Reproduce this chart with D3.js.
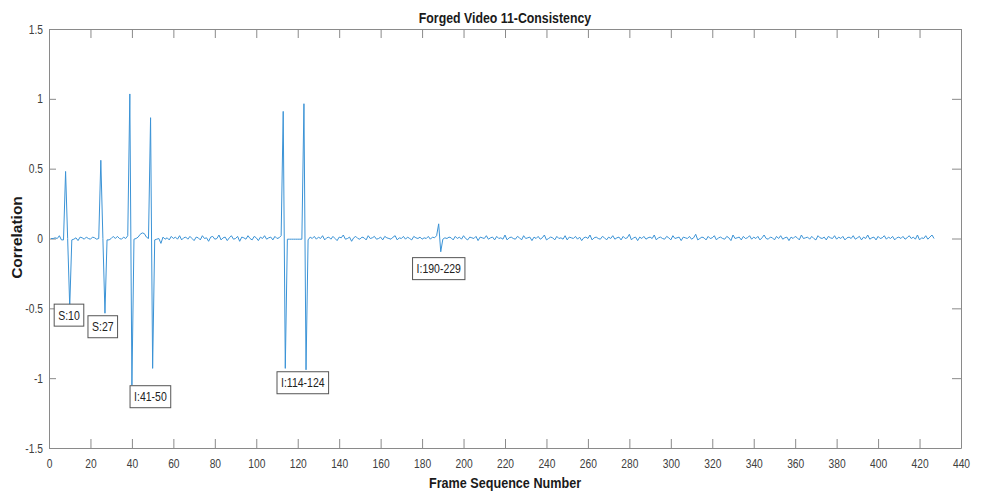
<!DOCTYPE html>
<html>
<head>
<meta charset="utf-8">
<script src="https://cdn.jsdelivr.net/npm/d3@7"></script>
<style>
  body { margin: 0; background: #fff; }
  text { font-family: "Liberation Sans", Arial, sans-serif; }
</style>
</head>
<body>
<div id="chart"></div>
<script>
// correlation per frame, frames 1..427 (10 per row)
const correlation = [
  0.0, 0.0, 0.005, 0.0, 0.02, -0.01, -0.01, 0.48, 0.0, -0.49,
  -0.01, -0.005, 0.005, -0.015, 0.01, 0.005, -0.005, 0.01, 0.0, -0.005,
  0.01, 0.005, -0.005, 0.0, 0.56, 0.0, -0.535, -0.01, -0.01, 0.0,
  0.015, 0.0, 0.015, 0.0, -0.005, 0.01, 0.0, 0.02, 1.035, -1.05,
  -0.005, 0.0, 0.01, 0.03, 0.04, 0.035, 0.01, 0.0, 0.865, -0.93,
  -0.01, -0.005, 0.0, -0.035, 0.01, -0.005, 0.005, -0.01, 0.015, 0.0,
  0.01, -0.005, 0.02, -0.01, 0.005, 0.01, -0.005, 0.015, 0.0, -0.015,
  0.01, 0.005, -0.01, 0.02, 0.0, 0.005, -0.02, 0.01, 0.015, -0.005,
  0.0, 0.025, -0.01, 0.005, 0.01, -0.015, 0.005, 0.02, -0.005, 0.0,
  0.015, -0.02, 0.01, 0.005, -0.005, 0.02, 0.0, -0.01, 0.015, 0.005,
  -0.015, 0.01, 0.0, 0.02, -0.005, 0.005, 0.01, -0.01, 0.015, 0.0,
  0.005, 0.02, 0.91, -0.93, -0.005, -0.005, -0.005, -0.005, -0.005, -0.005,
  -0.005, -0.005, 0.965, -0.94, -0.01, 0.01, 0.0, 0.015, -0.005, 0.01,
  0.0, 0.02, -0.01, 0.005, 0.01, -0.005, 0.015, 0.0, -0.015, 0.01,
  0.005, 0.025, -0.005, 0.0, 0.01, -0.02, 0.005, 0.015, 0.0, -0.005,
  0.01, 0.005, -0.01, 0.02, 0.0, 0.005, 0.015, -0.005, 0.0, 0.01,
  -0.01, 0.015, 0.005, 0.0, -0.005, 0.01, 0.02, -0.01, 0.005, 0.0,
  0.015, -0.005, 0.01, 0.0, -0.01, 0.015, 0.005, 0.0, 0.01, -0.005,
  0.005, 0.0, 0.015, -0.005, 0.01, 0.005, 0.02, 0.105, -0.095, -0.005,
  0.005, 0.0, 0.01, 0.005, -0.01, 0.015, 0.0, 0.01, -0.005, 0.02,
  0.0, -0.01, 0.01, 0.005, 0.0, 0.015, -0.015, 0.01, 0.005, 0.0,
  0.02, -0.005, 0.005, 0.01, -0.01, 0.015, 0.0, 0.005, -0.005, 0.025,
  -0.01, 0.005, 0.01, 0.0, -0.005, 0.015, 0.005, -0.01, 0.02, 0.0,
  0.005, 0.01, -0.015, 0.01, 0.0, 0.015, -0.005, 0.005, 0.025, -0.01,
  0.0, 0.01, 0.005, -0.01, 0.015, 0.0, 0.005, -0.005, 0.02, -0.01,
  0.01, 0.005, 0.0, 0.015, -0.005, 0.01, -0.015, 0.005, 0.01, 0.0,
  0.025, -0.01, 0.005, 0.01, 0.0, -0.005, 0.015, 0.005, -0.01, 0.01,
  0.0, 0.02, -0.005, 0.005, 0.01, -0.01, 0.015, 0.0, 0.005, 0.03,
  -0.01, 0.005, 0.01, -0.015, 0.01, 0.0, 0.015, -0.005, 0.005, 0.01,
  0.0, 0.025, -0.01, 0.005, 0.01, 0.0, -0.005, 0.015, 0.005, -0.01,
  0.02, 0.0, 0.005, 0.01, -0.015, 0.01, 0.005, 0.0, 0.015, -0.005,
  0.005, 0.03, -0.01, 0.0, 0.01, 0.005, -0.01, 0.015, 0.0, 0.005,
  0.02, -0.01, 0.005, 0.01, 0.0, -0.005, 0.015, 0.005, -0.015, 0.025,
  0.0, 0.005, 0.01, -0.01, 0.015, 0.0, 0.005, 0.02, -0.005, 0.01,
  0.0, 0.015, -0.01, 0.005, 0.025, 0.0, -0.005, 0.01, 0.005, -0.01,
  0.015, 0.0, 0.02, -0.005, 0.005, 0.01, -0.015, 0.01, 0.0, 0.015,
  0.005, -0.01, 0.025, 0.0, 0.005, 0.01, -0.005, 0.015, 0.0, -0.01,
  0.02, 0.005, 0.0, 0.01, -0.01, 0.015, 0.005, 0.0, 0.02, -0.005,
  0.01, 0.0, 0.015, -0.01, 0.005, 0.01, 0.0, 0.02, -0.005, 0.005,
  0.015, -0.01, 0.01, 0.0, 0.025, -0.005, 0.005, 0.01, -0.01, 0.015,
  0.0, 0.005, 0.02, -0.005, 0.01, 0.0, 0.015, -0.01, 0.005, 0.01,
  0.0, 0.015, -0.005, 0.005, 0.02, 0.0, 0.01, -0.005, 0.025, -0.01,
  0.005, 0.0, 0.02, -0.005, 0.01, 0.025, 0.0
];

const xTicks = d3.range(0, 441, 20);
const yTicks = [-1.5, -1, -0.5, 0, 0.5, 1, 1.5];

// text boxes: label, left edge (frame), top edge (correlation)
const notes = [
  { label: "S:10", x: 2.5, y: -0.47 },
  { label: "S:27", x: 18.8, y: -0.553 },
  { label: "I:41-50", x: 39.1, y: -1.054 },
  { label: "I:114-124", x: 110, y: -0.954 },
  { label: "I:190-229", x: 175.4, y: -0.137 }
];

const W = 987, H = 494;
const margin = { top: 29, right: 26, bottom: 46, left: 49 };
const axisColor = "#8a8a8a", textColor = "#404040";

// squeeze text horizontally, the original uses a narrow face
function narrow(sel, k) {
  sel.each(function () {
    const w = this.getComputedTextLength();
    d3.select(this).attr("textLength", w * k).attr("lengthAdjust", "spacingAndGlyphs");
  });
}

const svg = d3.select("#chart").append("svg")
  .attr("width", W).attr("height", H);

const x = d3.scaleLinear().domain([0, 440]).range([margin.left, W - margin.right]);
const y = d3.scaleLinear().domain([-1.5, 1.5]).range([H - margin.bottom, margin.top]);

// axes, ticks pointing inward
const fmt = d => String(d);
svg.append("g").attr("transform", `translate(0,${y(-1.5)})`)
  .call(d3.axisBottom(x).tickValues(xTicks).tickFormat(fmt).tickSizeInner(-9).tickSizeOuter(0).tickPadding(11));
svg.append("g").attr("transform", `translate(0,${y(1.5)})`)
  .call(d3.axisTop(x).tickValues(xTicks).tickFormat("").tickSizeInner(-9).tickSizeOuter(0));
svg.append("g").attr("transform", `translate(${x(0)},0)`)
  .call(d3.axisLeft(y).tickValues(yTicks).tickFormat(fmt).tickSizeInner(-7).tickSizeOuter(0).tickPadding(6));
svg.append("g").attr("transform", `translate(${x(440)},0)`)
  .call(d3.axisRight(y).tickValues(yTicks).tickFormat("").tickSizeInner(-9).tickSizeOuter(0));

svg.selectAll(".domain, .tick line").attr("stroke", axisColor);
svg.selectAll(".tick text").attr("fill", textColor).attr("font-size", 12.5)
  .style("font-family", '"Liberation Sans", Arial, sans-serif')
  .call(narrow, 0.82);

// line
const line = d3.line().x((d, i) => x(i + 1)).y(d => y(d));
svg.append("path").datum(correlation)
  .attr("fill", "none")
  .attr("stroke", "#3b93d6")
  .attr("stroke-width", 1)
  .attr("d", line);

// annotation boxes
const ng = svg.append("g").selectAll("g").data(notes).join("g")
  .attr("transform", d => `translate(${x(d.x)},${y(d.y)})`);
ng.append("text")
  .attr("y", 15.5)
  .attr("font-size", 12.5)
  .attr("fill", "#222")
  .text(d => d.label)
  .call(narrow, 0.84)
  .each(function (d) { d.w = this.getComputedTextLength() + 8; })
  .attr("x", d => d.w / 2)
  .attr("text-anchor", "middle");
ng.insert("rect", "text")
  .attr("width", d => d.w)
  .attr("height", 22)
  .attr("fill", "#fff")
  .attr("stroke", "#555")
  .attr("stroke-width", 1);

// titles
svg.append("text")
  .attr("x", (x(0) + x(440)) / 2).attr("y", 23)
  .attr("text-anchor", "middle").attr("font-weight", "bold").attr("font-size", 14.5)
  .attr("fill", "#1a1a1a")
  .text("Forged Video 11-Consistency")
  .call(narrow, 0.85);
svg.append("text")
  .attr("x", (x(0) + x(440)) / 2).attr("y", 488)
  .attr("text-anchor", "middle").attr("font-weight", "bold").attr("font-size", 14.5)
  .attr("fill", "#1a1a1a")
  .text("Frame Sequence Number")
  .call(narrow, 0.87);
svg.append("text")
  .attr("transform", `translate(22,${y(0) - 1}) rotate(-90)`)
  .attr("text-anchor", "middle").attr("font-weight", "bold").attr("font-size", 15.5)
  .attr("fill", "#1a1a1a")
  .text("Correlation");
</script>
</body>
</html>
